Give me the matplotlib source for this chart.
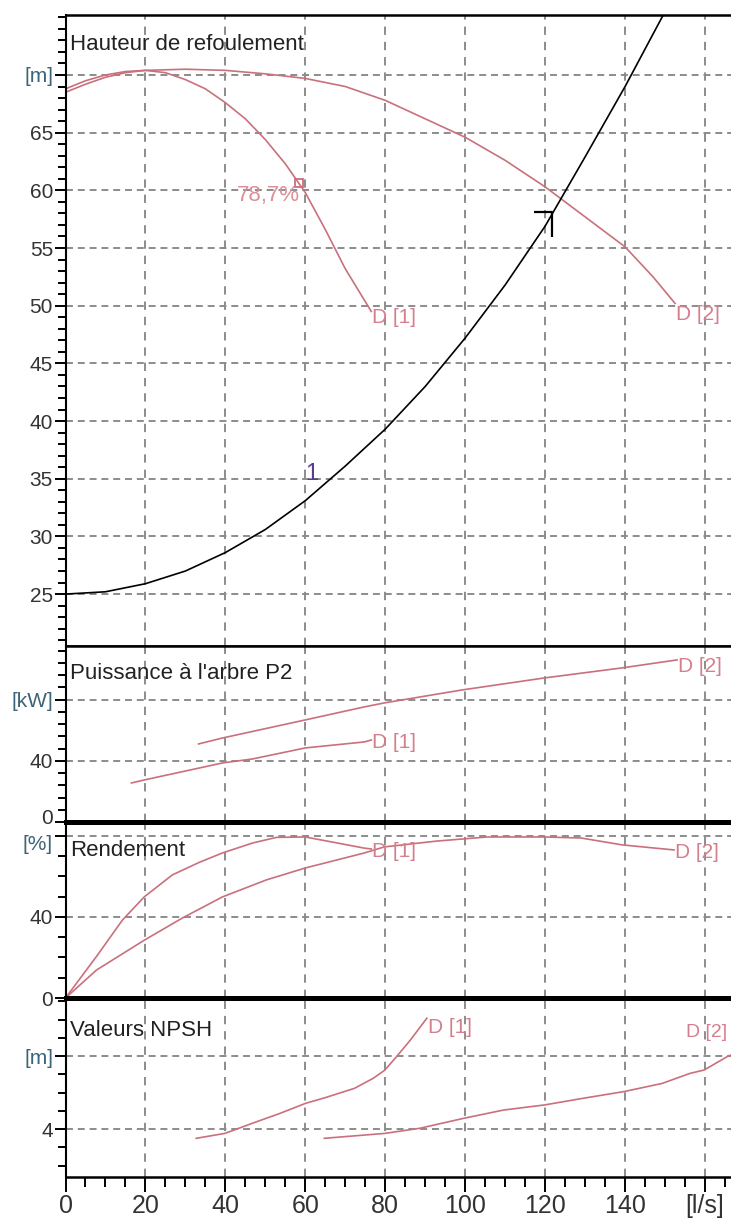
import numpy as np
import matplotlib
matplotlib.use('Agg')
import matplotlib.pyplot as plt
from matplotlib.ticker import MultipleLocator
from matplotlib.path import Path
from matplotlib.transforms import ScaledTranslation

plt.rcParams['font.family'] = ['Liberation Sans', 'DejaVu Sans']
plt.rcParams['lines.scale_dashes'] = False

## curve data, flow in l/s
head1_q = [0, 5, 10, 15, 20, 25, 30, 35, 40, 45, 50, 55, 60, 65, 70, 76.5]
head1_h = [68.8, 69.5, 70.0, 70.3, 70.4, 70.2, 69.6, 68.8, 67.6, 66.2, 64.4, 62.3, 59.8, 56.6, 53.2, 49.5]
head2_q = [0, 5, 10, 15, 20, 30, 40, 50, 60, 70, 80, 90, 100, 110, 120, 130, 140, 147, 152.5]
head2_h = [68.5, 69.2, 69.8, 70.2, 70.4, 70.5, 70.4, 70.1, 69.7, 69.0, 67.8, 66.2, 64.6, 62.6, 60.3, 57.7, 55.1, 52.5, 50.2]
sys_q = [0, 10, 20, 30, 40, 50, 60, 70, 80, 90, 100, 110, 120, 130, 140, 150]
sys_h = [25, 25.2, 25.9, 27.0, 28.6, 30.6, 33.1, 36.1, 39.3, 43.0, 47.2, 51.8, 56.9, 62.9, 69.0, 75.5]
bep_q = [58.3]
bep_h = [60.6]
bep_label = '78,7%'
op_q = [121.7]
op_h = [58.1]

power1_q = [16.5, 19.75, 33.5, 39.3, 46.8, 60, 74.75, 76.5]
power1_p = [25.5, 27.5, 35.3, 38.6, 41.2, 48.4, 52.3, 53.6]
power2_q = [33.3, 39.3, 60, 74.75, 79.75, 99.25, 119.75, 139.25, 153]
power2_p = [51.0, 54.9, 66.7, 75.2, 77.8, 86.3, 94.1, 100.7, 105.9]

eff1_q = [0, 7.75, 14.25, 19.75, 26.75, 33.5, 39.25, 46.75, 52.75, 60, 66.75, 74.75, 76.5]
eff1_e = [0, 20.5, 38.5, 50.0, 60.8, 67.0, 71.6, 76.5, 79.3, 79.5, 77.0, 74.0, 73.6]
eff2_q = [0, 7.75, 19.75, 29.25, 39.25, 50.25, 60, 74.75, 79.75, 93, 105.5, 119.75, 129, 139.25, 152.25]
eff2_e = [0, 13.8, 28.6, 39.5, 49.9, 58.3, 64.2, 71.6, 74.6, 77.5, 79.5, 79.5, 79.0, 75.6, 73.1]

npsh1_q = [32.7, 39.9, 46.7, 53.7, 60.1, 65.3, 72.3, 77, 79.9, 82.8, 86.3, 90.4]
npsh1_n = [3.49, 3.76, 4.31, 4.86, 5.41, 5.74, 6.23, 6.78, 7.23, 7.96, 8.88, 10.07]
npsh2_q = [64.75, 79.9, 88.65, 99.7, 109.6, 119.9, 129.4, 139.7, 149.3, 156.25, 159.75, 165.5, 167]
npsh2_n = [3.49, 3.76, 4.04, 4.59, 5.04, 5.32, 5.68, 6.05, 6.5, 7.05, 7.23, 7.96, 8.1]

x_ticks = [0, 20, 40, 60, 80, 100, 120, 140, 160]
x_tick_labels = ['0', '20', '40', '60', '80', '100', '120', '140', '[l/s]']

CURVE = '#c9707c'
LABEL = '#d47f8c'
UNIT = '#3c6478'

fig = plt.figure(figsize=(7.31, 12.30), dpi=100)
left = 65.5 / 731
W = 1 - left

def panel(top_px, bot_px):
    return fig.add_axes([left, 1 - bot_px / 1230, W, (bot_px - top_px) / 1230])

ax_h = panel(15, 646)
ax_p = panel(646, 822)
ax_e = panel(822, 998)
ax_n = panel(998, 1177)

specs = [
    (ax_h, (20.5, 75.2), [25, 30, 35, 40, 45, 50, 55, 60, 65, 70],
     ['25', '30', '35', '40', '45', '50', '55', '60', '65', '[m]'], 1, 'Hauteur de refoulement', 14),
    (ax_p, (0, 115), [0, 40, 80], ['0', '40', '[kW]'], 8, "Puissance à l'arbre P2", 12),
    (ax_e, (0, 86.9), [0, 40, 80], ['0', '40', '[%]'], 10, 'Rendement', 13),
    (ax_n, (1.37, 11.18), [4, 8], ['4', '[m]'], 1, 'Valeurs NPSH', 16),
]

for ax, ylim, yt, ylab, minor, title, dy in specs:
    ax.set_xlim(0, 166.5)
    ax.set_ylim(*ylim)
    ax.set_yticks(yt, ylab)
    ax.yaxis.set_minor_locator(MultipleLocator(minor))
    ax.set_xticks(x_ticks)
    ax.xaxis.set_minor_locator(MultipleLocator(5))
    ax.tick_params(axis='y', which='major', direction='out', length=8, width=1.4,
                   labelsize=15, pad=1, labelcolor='#333333')
    ax.tick_params(axis='y', which='minor', direction='out', length=5.5, width=1.4)
    ax.get_yticklabels()[-1].set_color(UNIT)
    ax.grid(axis='y', which='major', color='#8c8c8c', linewidth=1.4, dashes=(5, 3.5))
    ax.grid(axis='x', which='major', color='#6e6e6e', linewidth=1.1, dashes=(6, 5))
    ax.spines['right'].set_visible(False)
    ax.spines['left'].set_linewidth(1.5)
    ax.annotate(title, xy=(0, 1), xycoords='axes fraction', xytext=(3, -dy),
                textcoords='offset points', ha='left', va='top', fontsize=16, color='#222222')
    if ax is not ax_n:
        ax.tick_params(axis='x', which='both', length=0, labelbottom=False)

ax_h.spines['top'].set_linewidth(1.8)
ax_h.spines['bottom'].set_linewidth(1.8)
ax_p.spines['top'].set_linewidth(1.8)
ax_p.spines['bottom'].set_linewidth(3.6)
ax_e.spines['top'].set_linewidth(3.6)
ax_e.spines['bottom'].set_linewidth(3.6)
ax_n.spines['top'].set_linewidth(3.6)
ax_n.spines['bottom'].set_linewidth(1.8)

# the power "0" and the "[%]" unit sit on top of each other in the original, nudge them apart
lbl0 = ax_p.get_yticklabels()[0]
lbl0.set_transform(lbl0.get_transform() + ScaledTranslation(0, 4 / 72, fig.dpi_scale_trans))
lblpc = ax_e.get_yticklabels()[-1]
lblpc.set_transform(lblpc.get_transform() + ScaledTranslation(0, -5 / 72, fig.dpi_scale_trans))

ax_n.set_xticks(x_ticks, x_tick_labels)
ax_n.tick_params(axis='x', which='major', direction='out', length=10.5, width=1.4,
                 labelsize=18, pad=2, labelcolor='#333333')
ax_n.tick_params(axis='x', which='minor', direction='out', length=7, width=1.4)

def end_label(ax, q, v, text, dy):
    ax.annotate(text, xy=(q[-1], v[-1]), xytext=(0.5, dy), textcoords='offset points',
                ha='left', va='center', fontsize=15, color=LABEL)

## Head
ax_h.plot(head1_q, head1_h, color=CURVE, lw=1.2)
ax_h.plot(head2_q, head2_h, color=CURVE, lw=1.2)
ax_h.plot(sys_q, sys_h, color='black', lw=1.2)
ax_h.plot(bep_q, bep_h, marker='s', ms=6, mfc='none', mec=CURVE, mew=1.3, ls='none')
ax_h.annotate(bep_label, xy=(bep_q[0], bep_h[0]), xytext=(1, -1), textcoords='offset points',
              ha='right', va='top', fontsize=16, color='#dc8d98')
cursor = Path([(-18, 0), (0, 0), (0, -25)], [Path.MOVETO, Path.LINETO, Path.LINETO])
ax_h.plot(op_q, op_h, marker=cursor, ms=36, mfc='none', mec='black', mew=1.6, ls='none')
ax_h.text(61.5, 35.4, '1', fontsize=17, color='#5a3c8c', ha='center', va='center')
end_label(ax_h, head1_q, head1_h, 'D [1]', -4)
end_label(ax_h, head2_q, head2_h, 'D [2]', -8)

## Power
ax_p.plot(power1_q, power1_p, color=CURVE, lw=1.2)
ax_p.plot(power2_q, power2_p, color=CURVE, lw=1.2)
end_label(ax_p, power1_q, power1_p, 'D [1]', -2)
end_label(ax_p, power2_q, power2_p, 'D [2]', -5)

## Efficiency
ax_e.plot(eff1_q, eff1_e, color=CURVE, lw=1.2)
ax_e.plot(eff2_q, eff2_e, color=CURVE, lw=1.2)
end_label(ax_e, eff1_q, eff1_e, 'D [1]', -2)
end_label(ax_e, eff2_q, eff2_e, 'D [2]', -2)

## NPSH
ax_n.plot(npsh1_q, npsh1_n, color=CURVE, lw=1.2)
ax_n.plot(npsh2_q, npsh2_n, color=CURVE, lw=1.2)
end_label(ax_n, npsh1_q, npsh1_n, 'D [1]', -7)
ax_n.text(155.3, 9.3, 'D [2]', fontsize=14, color=LABEL, ha='left', va='center')

fig.savefig('out.png', dpi=100)
